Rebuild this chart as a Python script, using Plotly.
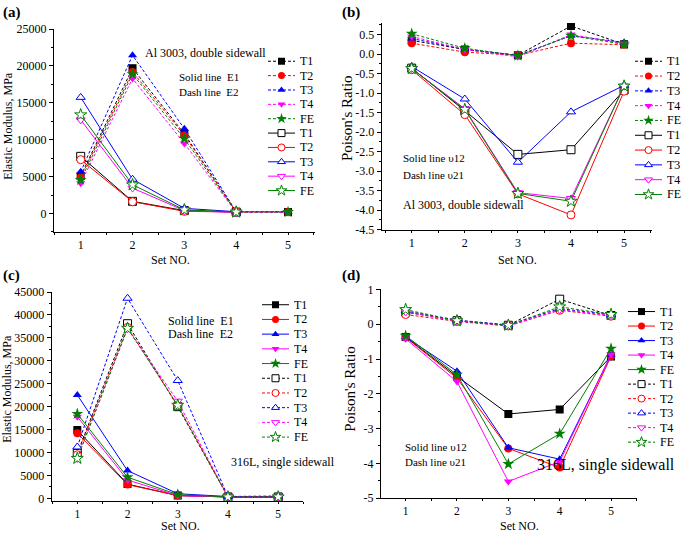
import plotly.graph_objects as go

W, H = 685, 537
sets = [1, 2, 3, 4, 5]
names = ["T1", "T2", "T3", "T4", "FE"]
colors = ["#000000", "#FF0000", "#0000FF", "#FF00FF", "#008000"]
symbols = ["square", "circle", "triangle-up", "triangle-down", "star"]

# (a) Al 3003, double sidewall - Elastic modulus
a_E2 = {  # dashed, filled markers
    "T1": [5100, 19700, 10800, 200, 200],
    "T2": [4900, 19200, 10600, 200, 200],
    "T3": [5650, 21450, 11500, 250, 250],
    "T4": [4100, 18300, 9500, 150, 150],
    "FE": [4550, 18900, 10150, 200, 200],
}
a_E1 = {  # solid, open markers
    "T1": [7750, 1650, 400, 200],
    "T2": [7300, 1600, 300, 200],
    "T3": [15750, 4650, 700, 250],
    "T4": [12700, 3450, 400, 150],
    "FE": [13380, 3900, 500, 200],
}
# (b) Al 3003, double sidewall - Poisson's ratio
b_v21 = {  # dashed, filled
    "T1": [0.35, 0.12, -0.03, 0.72, 0.25],
    "T2": [0.28, 0.05, -0.03, 0.28, 0.24],
    "T3": [0.40, 0.12, -0.03, 0.47, 0.30],
    "T4": [0.45, 0.12, -0.07, 0.50, 0.27],
    "FE": [0.52, 0.15, -0.04, 0.47, 0.25],
}
b_v12 = {  # solid, open
    "T1": [-0.36, -1.45, -2.57, -2.45, -0.92],
    "T2": [-0.40, -1.55, -3.58, -4.12, -0.95],
    "T3": [-0.32, -1.15, -2.77, -1.48, -0.80],
    "T4": [-0.37, -1.40, -3.55, -3.70, -0.82],
    "FE": [-0.37, -1.42, -3.57, -3.77, -0.82],
}
# (c) 316L, single sidewall - Elastic modulus
c_E1 = {  # solid, filled
    "T1": [14900, 3100, 600, 300, 300],
    "T2": [14200, 3000, 600, 300, 300],
    "T3": [22550, 6050, 1000, 400, 400],
    "T4": [17800, 4000, 600, 300, 300],
    "FE": [18430, 4600, 800, 300, 300],
}
c_E2 = {  # dashed, open
    "T1": [9800, 38100, 20000, 300, 300],
    "T2": [9500, 37300, 20200, 300, 300],
    "T3": [11200, 43650, 25700, 400, 500],
    "T4": [8700, 37000, 21200, 300, 300],
    "FE": [8720, 37100, 20300, 300, 300],
}
# (d) 316L, single sidewall - Poisson's ratio
d_v12 = {  # solid, filled
    "T1": [-0.37, -1.50, -2.58, -2.45, -0.93],
    "T2": [-0.38, -1.55, -3.57, -4.12, -0.92],
    "T3": [-0.37, -1.35, -3.55, -3.88, -0.88],
    "T4": [-0.42, -1.65, -4.52, -3.95, -0.87],
    "FE": [-0.33, -1.45, -4.02, -3.15, -0.70],
}
d_v21 = {  # dashed, open
    "T1": [0.35, 0.10, -0.03, 0.72, 0.25],
    "T2": [0.28, 0.08, -0.05, 0.40, 0.23],
    "T3": [0.38, 0.12, -0.02, 0.45, 0.27],
    "T4": [0.35, 0.10, -0.05, 0.42, 0.25],
    "FE": [0.42, 0.10, -0.03, 0.50, 0.28],
}

b_ticks = [0.5, 0.0, -0.5, -1.0, -1.5, -2.0, -2.5, -3.0, -3.5, -4.0, -4.5]
b_ticktext = ["0.5", "0.0", "-0.5", "-1.0", "-1.5", "-2.0", "-2.5", "-3.0", "-3.5", "-4.0", "-4.5"]
d_ticks = [1, 0, -1, -2, -3, -4, -5]
d_ticktext = ["1", "0", "-1", "-2", "-3", "-4", "-5"]

FONT = "Liberation Serif"
DASH = "3px,2px"

fig = go.Figure()


def marker_style(sym, col, filled, size):
    if sym == "star":
        size += 1
    if filled:
        return dict(symbol=sym, size=size, color=col, line=dict(width=0))
    return dict(symbol=sym, size=size, color="white", line=dict(color=col, width=1))


def add(series, filled, dashed, xa, ya):
    for name, col, sym in zip(names, colors, symbols):
        vals = series[name]
        xs = sets[: len(vals)]
        fig.add_trace(go.Scatter(
            x=xs, y=vals, name=name, mode="lines+markers", showlegend=False,
            line=dict(color=col, width=1, dash=DASH if dashed else "solid"),
            marker=marker_style(sym, col, filled, 8), xaxis=xa, yaxis=ya,
        ))


add(a_E2, True, True, "x", "y")
add(a_E1, False, False, "x", "y")
add(b_v21, True, True, "x2", "y2")
add(b_v12, False, False, "x2", "y2")
add(c_E1, True, False, "x3", "y3")
add(c_E2, False, True, "x3", "y3")
add(d_v12, True, False, "x4", "y4")
add(d_v21, False, True, "x4", "y4")


def xd(l, r):
    return [l / W, r / W]


def yd(t, b):
    return [1 - b / H, 1 - t / H]


tickfont = dict(family=FONT, size=12, color="black")
tickfont_small = dict(family=FONT, size=11.5, color="black")


def xaxis(dom, rng, anchor, font=tickfont):
    return dict(domain=dom, range=rng, anchor=anchor, tickvals=sets, ticks="outside",
                ticklen=2, tickcolor="black", showline=True, linecolor="black", linewidth=1,
                showgrid=False, zeroline=False, tickfont=font, fixedrange=True,
                minor=dict(dtick=0.5, tick0=0.5, ticks="outside", ticklen=2, tickcolor="black"))


def yaxis(dom, rng, anchor, **kw):
    d = dict(domain=dom, range=rng, anchor=anchor, ticks="outside", ticklen=4,
             tickcolor="black", showline=True, linecolor="black", linewidth=1,
             showgrid=False, zeroline=False, tickfont=tickfont, fixedrange=True)
    d.update(kw)
    return d


fig.update_layout(
    width=W, height=H,
    margin=dict(l=0, r=0, t=0, b=0),
    paper_bgcolor="white", plot_bgcolor="rgba(0,0,0,0)",
    font=dict(family=FONT, size=12, color="black"),
    showlegend=False,
    xaxis=xaxis(xd(54, 315), [0.485, 5.52], "y"),
    yaxis=yaxis(yd(22.7, 231), [-2500, 25000], "x", dtick=5000, tickformat="d",
                minor=dict(dtick=2500, ticks="outside", ticklen=2, tickcolor="black")),
    xaxis2=xaxis(xd(381.7, 651.7), [0.435, 5.52], "y2"),
    yaxis2=yaxis(yd(16.3, 228.7), [-4.5, 0.8], "x2", tickvals=b_ticks, ticktext=b_ticktext,
                 minor=dict(dtick=0.25, tick0=0, ticks="outside", ticklen=2, tickcolor="black")),
    xaxis3=xaxis(xd(51.7, 303.3), [0.49, 5.5], "y3", tickfont_small),
    yaxis3=yaxis(yd(292.7, 507.3), [-600, 45000], "x3", dtick=5000, tickformat="d",
                 minor=dict(dtick=2500, ticks="outside", ticklen=2, tickcolor="black")),
    xaxis4=xaxis(xd(381, 636.7), [0.52, 5.5], "y4", tickfont_small),
    yaxis4=yaxis(yd(290, 504.3), [-5, 1], "x4", tickvals=d_ticks, ticktext=d_ticktext,
                 minor=dict(dtick=0.5, tick0=0, ticks="outside", ticklen=2, tickcolor="black")),
    # hidden pixel-space overlay used only for the legend keys
    xaxis5=dict(domain=[0, 1], range=[0, W], anchor="y5", visible=False, fixedrange=True),
    yaxis5=dict(domain=[0, 1], range=[H, 0], anchor="x5", visible=False, fixedrange=True),
)


def ann(text, x, y, size=12, xanchor="left", angle=0, bold=False):
    t = f"<b>{text}</b>" if bold else text
    fig.add_annotation(text=t, x=x / W, y=1 - y / H, xref="paper", yref="paper",
                       xanchor=xanchor, yanchor="middle", showarrow=False, textangle=angle,
                       font=dict(family=FONT, size=size, color="black"))


def legend_box(x0, y0, dy, filled_dashed_first):
    """Origin-style legend: 5 filled-marker entries then 5 open-marker entries."""
    key_len = 27
    k = 0
    for group in range(2):
        filled = group == 0
        dashed = filled if filled_dashed_first else not filled
        for name, col, sym in zip(names, colors, symbols):
            yy = y0 + k * dy
            fig.add_trace(go.Scatter(
                x=[x0, x0 + key_len], y=[yy, yy], mode="lines", showlegend=False,
                hoverinfo="skip", line=dict(color=col, width=1, dash=DASH if dashed else "solid"),
                xaxis="x5", yaxis="y5"))
            fig.add_trace(go.Scatter(
                x=[x0 + key_len / 2], y=[yy], mode="markers", showlegend=False,
                hoverinfo="skip", marker=marker_style(sym, col, filled, 7),
                xaxis="x5", yaxis="y5"))
            ann(name, x0 + key_len + 3, yy, 12)
            k += 1


legend_box(268, 55.7, 14.75, True)
legend_box(635, 55.7, 15.2, True)
legend_box(262, 305.7, 15.1, False)
legend_box(628, 312.7, 14.9, False)

# panel labels
ann("(a)", 1, 6, 15, bold=True)
ann("(b)", 340, 6, 15, bold=True)
ann("(c)", 1, 276, 15, bold=True)
ann("(d)", 340, 276, 15, bold=True)
# axis titles
ann("Set NO.", 170, 260, 12, "center")
ann("Set NO.", 517, 260, 12, "center")
ann("Set NO.", 180, 533, 12, "center")
ann("Set NO.", 519, 533, 12, "center")
ann("Elastic Modulus, MPa", 8, 122, 12, "center", -90)
ann("Elastic Modulus, MPa", 7, 392, 12, "center", -90)
ann("Poison's Ratio", 347, 114, 15, "center", -90)
ann("Poison's Ratio", 350, 392, 15, "center", -90)
# in-plot texts
ann("Al 3003, double sidewall", 143, 47, 12)
ann("Solid line  E1", 177, 72, 11)
ann("Dash line  E2", 177, 87, 11)
ann("Solid line \u03c512", 401, 155, 11)
ann("Dash line \u03c521", 401, 172, 11)
ann("Al 3003, double sidewall", 401, 203, 12)
ann("Solid line  E1", 166, 322, 12)
ann("Dash line  E2", 166, 336, 12)
ann("316L, single sidewall", 229, 467, 12)
ann("Solid line \u03c512", 403, 452, 11)
ann("Dash line \u03c521", 403, 467, 11)
ann("316L, single sidewall", 535, 470, 16)

fig.write_html(
    "out.html",
    config={"displayModeBar": False},
    post_script="document.body.style.margin='0';document.body.style.overflow='hidden';",
)
